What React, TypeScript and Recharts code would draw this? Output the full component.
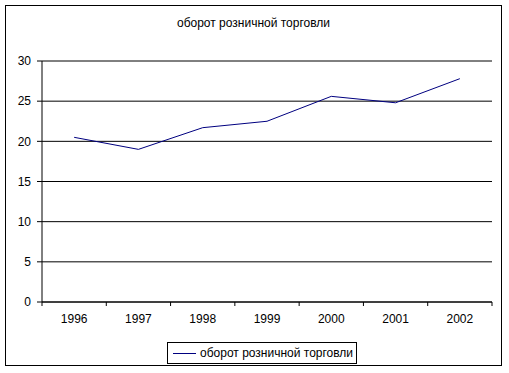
import React from "react";
import {
  LineChart,
  Line,
  XAxis,
  YAxis,
  CartesianGrid,
} from "recharts";

const years = ["1996", "1997", "1998", "1999", "2000", "2001", "2002"];
const turnover = [20.5, 19.0, 21.7, 22.5, 25.6, 24.8, 27.8];
const yTicks = [0, 5, 10, 15, 20, 25, 30];
const seriesName = "оборот розничной торговли";

const data = years.map((year, i) => ({ year, turnover: turnover[i] }));

const font = "'Liberation Sans', Arial, sans-serif";
const X_TICK_GAP = 12; // tickSize + tickMargin of the year axis

// year label in the middle of its band, small tick marks on the band edges (Excel style)
function YearTick(props: any) {
  const { x, y, payload, index, visibleTicksCount } = props;
  const half = payload?.offset ?? 0;
  const axisY = y - X_TICK_GAP;
  const isLast = index === visibleTicksCount - 1;
  return (
    <g>
      <line x1={x - half} x2={x - half} y1={axisY} y2={axisY + 4} stroke="#000" />
      {isLast && (
        <line x1={x + half} x2={x + half} y1={axisY} y2={axisY + 4} stroke="#000" />
      )}
      <text
        x={x}
        y={y}
        dy="0.71em"
        textAnchor="middle"
        fill="#000"
        fontSize={12}
        fontFamily={font}
      >
        {payload.value}
      </text>
    </g>
  );
}

export default function App() {
  return (
    <div
      style={{
        position: "absolute",
        left: 0,
        top: 0,
        width: 509,
        height: 373,
        background: "#fff",
        fontFamily: font,
      }}
    >
      <div
        style={{
          position: "absolute",
          left: 5,
          top: 5,
          width: 497,
          height: 361,
          border: "1px solid #000",
          boxSizing: "border-box",
        }}
      />
      <div
        style={{
          position: "absolute",
          left: 0,
          width: 507,
          top: 16,
          textAlign: "center",
          fontSize: 12,
          color: "#000",
        }}
      >
        {seriesName}
      </div>
      <div style={{ position: "absolute", left: 0, top: 0 }}>
        <LineChart
          width={509}
          height={373}
          data={data}
          margin={{ top: 61, right: 17, bottom: 41, left: 12 }}
        >
          <CartesianGrid vertical={false} stroke="#000" strokeWidth={1} />
          <XAxis
            dataKey="year"
            scale="band"
            axisLine={{ stroke: "#000" }}
            tickLine={false}
            tickSize={6}
            tickMargin={6}
            height={30}
            tick={<YearTick />}
            interval={0}
          />
          <YAxis
            domain={[0, 30]}
            ticks={yTicks}
            width={30}
            axisLine={{ stroke: "#000" }}
            tickLine={{ stroke: "#000" }}
            tickSize={5}
            tickMargin={6}
            tick={{ fill: "#000", fontSize: 12, fontFamily: font }}
          />
          <Line
            type="linear"
            dataKey="turnover"
            name={seriesName}
            stroke="#000080"
            strokeWidth={1}
            dot={false}
            activeDot={false}
            isAnimationActive={false}
          />
        </LineChart>
      </div>
      <div
        style={{
          position: "absolute",
          left: 167,
          top: 342,
          width: 190,
          height: 22,
          border: "1px solid #000",
          boxSizing: "border-box",
          display: "flex",
          alignItems: "center",
          fontSize: 12,
          color: "#000",
        }}
      >
        <span
          style={{
            display: "inline-block",
            width: 23,
            height: 1,
            background: "#000080",
            marginLeft: 5,
            marginRight: 4,
          }}
        />
        <span>{seriesName}</span>
      </div>
    </div>
  );
}
